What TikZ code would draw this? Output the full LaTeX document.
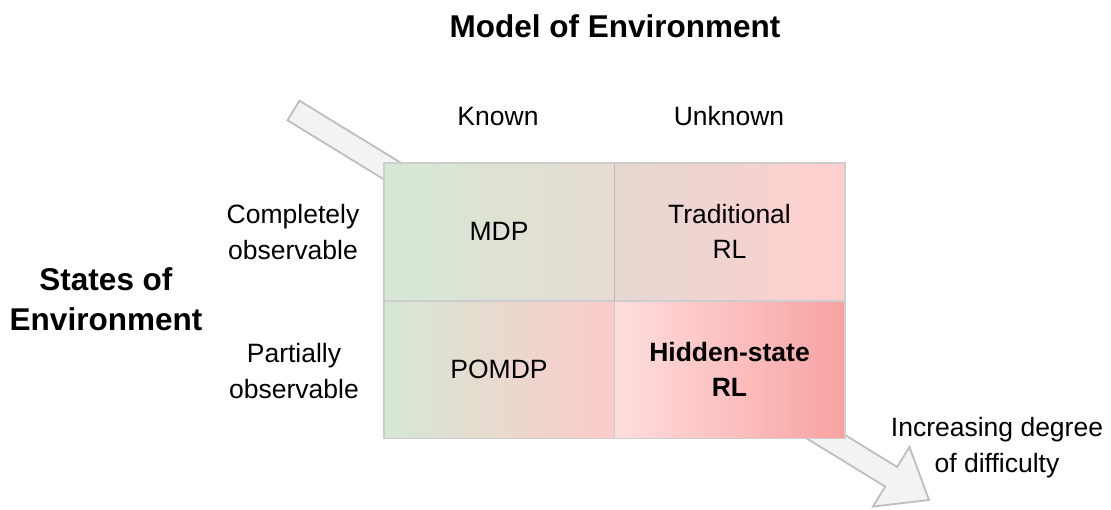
\documentclass[tikz,border=0pt]{standalone}
\usepackage{fontspec}
\setmainfont{Liberation Sans}
\definecolor{greenL}{HTML}{D5E8D4}
\definecolor{tanM}{HTML}{E6DCD2}
\definecolor{tanR}{HTML}{E6D8CF}
\definecolor{pinkR}{HTML}{FFCFCF}
\definecolor{pinkBL}{HTML}{FDCACA}
\definecolor{pinkL}{HTML}{FFDEDE}
\definecolor{pinkS}{HTML}{F8A2A2}
\definecolor{gridc}{HTML}{CDCDCD}
\definecolor{gridd}{HTML}{B8B8B8}
\definecolor{arrowf}{HTML}{F3F3F3}
\definecolor{arrowd}{HTML}{BEBEBE}
\begin{document}
\begin{tikzpicture}[x=1pt,y=-1pt,
  lab/.style={inner sep=0pt, align=center, font=\fontsize{26.5}{35.5}\selectfont},
  head/.style={inner sep=0pt, align=center, font=\fontsize{31.5}{40}\selectfont\bfseries},
  cell/.style={minimum width=230pt, minimum height=137pt, inner sep=0pt, align=center,
    draw=gridc, line width=1pt, font=\fontsize{26.5}{35.5}\selectfont},
  blockarrow/.style={fill=arrowf, draw=arrowd, line width=1.8pt, line join=miter}]
\useasboundingbox (0,0) rectangle (1111,509);
% big arrow behind the grid
\begin{scope}[shift={(293.5,110.5)}, rotate=-31.5]
  \draw[blockarrow] (0pt,11.5pt) -- (701pt,11.5pt) -- (701pt,35pt) -- (745.4pt,0pt)
     -- (701pt,-35pt) -- (701pt,-11.5pt) -- (0pt,-11.5pt) -- cycle;
\end{scope}
% cells
\node[cell, left color=greenL, right color=tanM] (mdp) at (499,231.5) {MDP};
\node[cell, left color=tanR, right color=pinkR] (trl) at (729.5,231.5) {Traditional\\RL};
\node[cell, left color=greenL, right color=pinkBL] (pomdp) at (499,369.5) {POMDP};
\node[cell, left color=pinkL, right color=pinkS, font=\fontsize{26.5}{35.5}\selectfont\bfseries] (hrl) at (729.5,369.5) {Hidden-state\\RL};
\draw[gridc, line width=1.5pt] (mdp.north west) rectangle (hrl.south east);
\draw[gridd, line width=1.6pt] (mdp.north east) -- (mdp.south east);
% labels (anchor=base is the baseline of the last line)
\node[head, anchor=base] (title) at (615,37) {Model of Environment};
\node[lab, anchor=base] (known) at (498,125) {Known};
\node[lab, anchor=base] (unknown) at (729,125) {Unknown};
\node[lab, anchor=base] (comp) at (293,259) {Completely\\observable};
\node[lab, anchor=base] (part) at (294,398) {Partially\\observable};
\node[head, anchor=base] (states) at (106,330) {States of\\Environment};
\node[lab, anchor=base] (incr) at (997,472) {Increasing degree\\of difficulty};
\end{tikzpicture}
\end{document}
